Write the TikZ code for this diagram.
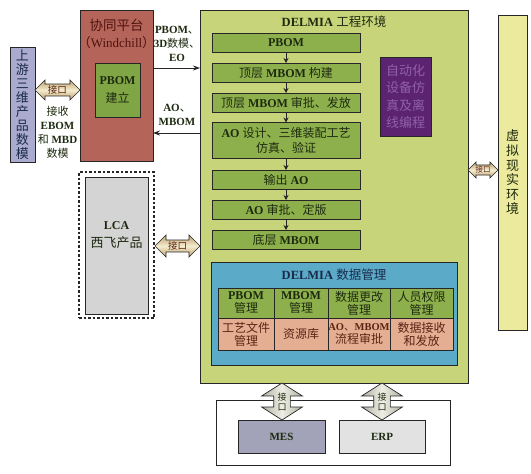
\documentclass[tikz,border=0pt]{standalone}
\usepackage{fontspec}
\setmainfont{Liberation Serif}
\newfontfamily\cjk{Noto Sans CJK SC}
\newcommand\zh[1]{{\cjk\mdseries #1}}
\usetikzlibrary{shapes.arrows,arrows.meta,calc}
\definecolor{dlbg}{HTML}{C8D47A}
\definecolor{flowg}{HTML}{8DB04C}
\definecolor{xtred}{HTML}{B5645A}
\definecolor{pbomg}{HTML}{7FA544}
\definecolor{leftp}{HTML}{ABABD0}
\definecolor{rightY}{HTML}{ECEA9C}
\definecolor{blueb}{HTML}{5AAAC8}
\definecolor{cellg}{HTML}{8DB04C}
\definecolor{cells}{HTML}{E4AE92}
\definecolor{purp}{HTML}{5C2470}
\definecolor{purt}{HTML}{9060A8}
\definecolor{lcag}{HTML}{D4D4D4}
\definecolor{mesc}{HTML}{A2A2B8}
\definecolor{erpc}{HTML}{E2E2E2}
\definecolor{tanL}{HTML}{F4ECD0}
\definecolor{tanD}{HTML}{BFA068}
\definecolor{greyL}{HTML}{EEEEE6}
\definecolor{greyD}{HTML}{B0B0A0}
\definecolor{edge}{HTML}{262626}
\definecolor{flowt}{HTML}{1E2A10}
\definecolor{redt}{HTML}{4E140E}
\definecolor{navy}{HTML}{1A2A4A}
\definecolor{brownt}{HTML}{5A2414}
\begin{document}
\begin{tikzpicture}[x=1pt,y=-1pt,
  box/.style={draw=edge, line width=0.9pt, inner sep=0pt, outer sep=0pt, align=center},
  flow/.style={box, fill=flowg, minimum width=148pt, minimum height=19pt, text=flowt,
    font=\fontsize{12}{15}\selectfont\bfseries},
  cellA/.style={box, fill=cellg, minimum height=30pt, text=flowt, font=\fontsize{12}{13}\selectfont\bfseries},
  cellB/.style={box, fill=cells, minimum height=32pt, text=brownt, font=\fontsize{12}{13}\selectfont\bfseries},
  lbl/.style={inner sep=0pt, align=center, font=\fontsize{11}{14}\selectfont\bfseries},
  harrow/.style={shape=double arrow, draw=edge, line width=0.7pt, inner xsep=0pt, inner ysep=1.2pt,
    double arrow tip angle=90, top color=tanD, bottom color=tanD, middle color=tanL,
    text=brownt},
  varrow/.style={shape=double arrow, shape border rotate=90, draw=edge, line width=0.7pt, inner sep=8pt,
    double arrow tip angle=115, double arrow head extend=12pt, minimum width=40pt, minimum height=37pt,
    left color=greyD, right color=greyD, middle color=greyL},
  flowarr/.style={-{Stealth[length=5pt,width=5pt]}, line width=0.9pt, draw=edge},
  link/.style={-{Stealth[length=7pt,width=5pt]}, line width=0.9pt, draw=edge}
]
\useasboundingbox[fill=white] (0,0) rectangle (531,474);

% DELMIA environment
\node[box, fill=dlbg, minimum width=268pt, minimum height=373pt] (dl) at (334,196.5) {};
\node[lbl, font=\fontsize{12.5}{14}\selectfont\bfseries, text=flowt] (dlt) at (334,22) {DELMIA \zh{工程环境}};

% flow
\node[flow] (f1) at (286,42.5) {PBOM};
\node[flow] (f2) at (286,72.5) {\zh{顶层} MBOM \zh{构建}};
\node[flow] (f3) at (286,102.5) {\zh{顶层} MBOM \zh{审批、发放}};
\node[flow, minimum height=36pt] (f4) at (286,140.5) {AO \zh{设计、三维装配工艺}\\\zh{仿真、验证}};
\node[flow] (f5) at (286,179.5) {\zh{输出} AO};
\node[flow] (f6) at (286,209.5) {AO \zh{审批、定版}};
\node[flow] (f7) at (286,239.5) {\zh{底层} MBOM};
\draw[flowarr] (f1) -- (f2);
\draw[flowarr] (f2) -- (f3);
\draw[flowarr] (f3) -- (f4);
\draw[flowarr] (f4) -- (f5);
\draw[flowarr] (f5) -- (f6);
\draw[flowarr] (f6) -- (f7);

% purple box
\node[box, fill=purp, minimum width=51pt, minimum height=79pt, text=purt,
  font=\fontsize{13}{17.5}\selectfont] (pu) at (405.5,96.5) {\zh{自动化}\\\zh{设备仿}\\\zh{真及离}\\\zh{线编程}};

% data management
\node[box, fill=blueb, minimum width=246pt, minimum height=103pt] (dm) at (334,313.5) {};
\node[lbl, font=\fontsize{12.5}{14}\selectfont\bfseries, text=navy] (dmt) at (334,275) {DELMIA \zh{数据管理}};
\node[cellA, minimum width=56pt] (c11) at (246,303) {PBOM\\\zh{管理}};
\node[cellA, minimum width=54pt] (c12) at (301,303) {MBOM\\\zh{管理}};
\node[cellA, minimum width=62pt] (c13) at (359,303) {\zh{数据更改}\\\zh{管理}};
\node[cellA, minimum width=63pt] (c14) at (421.5,303) {\zh{人员权限}\\\zh{管理}};
\node[cellB, minimum width=56pt] (c21) at (246,334) {\zh{工艺文件}\\\zh{管理}};
\node[cellB, minimum width=54pt] (c22) at (301,334) {\zh{资源库}};
\node[cellB, minimum width=62pt] (c23) at (359,334) {{\fontsize{10.5}{13}\selectfont AO\zh{、}MBOM}\\\zh{流程审批}};
\node[cellB, minimum width=63pt] (c24) at (421.5,334) {\zh{数据接收}\\\zh{和发放}};

% right virtual reality bar
\node[box, fill=rightY, minimum width=29pt, minimum height=315pt, text=flowt,
  font=\fontsize{13}{14.6}\selectfont] (vr) at (512.5,172.5) {\zh{虚}\\\zh{拟}\\\zh{现}\\\zh{实}\\\zh{环}\\\zh{境}};
\node[harrow, minimum height=30pt, minimum width=16pt, double arrow head extend=3pt,
  font=\fontsize{7.5}{8}\selectfont] (ar) at (483,170) {\zh{接口}};

% upstream box
\node[box, fill=leftp, minimum width=25pt, minimum height=115pt, text=navy,
  font=\fontsize{13}{14}\selectfont] (up) at (22.5,104.5) {\zh{上}\\\zh{游}\\\zh{三}\\\zh{维}\\\zh{产}\\\zh{品}\\\zh{数}\\\zh{模}};

% collaboration platform
\node[box, fill=xtred, minimum width=73pt, minimum height=151pt] (xt) at (116.5,85.5) {};
\node[lbl, font=\fontsize{13.5}{15}\selectfont, text=redt] (xtt) at (116.5,25) {\zh{协同平台}};
\node[lbl, font=\fontsize{13}{14}\selectfont\mdseries, text=redt] (xtw) at (116.5,43) {\zh{（}Windchill\zh{）}};
\node[box, fill=pbomg, minimum width=45pt, minimum height=54pt, text=flowt,
  font=\fontsize{12}{18}\selectfont\bfseries] (pb) at (117.5,90) {PBOM\\\zh{建立}};

\node[harrow, minimum height=45pt, minimum width=20pt, double arrow head extend=4pt,
  font=\fontsize{9.5}{10}\selectfont] (al) at (57.5,90) {\zh{接口}};
\node[lbl, font=\fontsize{11}{14}\selectfont\bfseries, text=flowt] (rcv) at (57.5,132)
  {\zh{接收}\\EBOM\\\zh{和} MBD\\\zh{数模}};

% links between platform and DELMIA
\draw[link] (xt.east |- 0,68) -- (dl.west |- 0,68);
\draw[link] (dl.west |- 0,133) -- (xt.east |- 0,133);
\node[lbl, text=flowt] (lb1) at (177,44) {PBOM\zh{、}\\3D\zh{数模、}\\EO};
\node[lbl, text=flowt] (lb2) at (177,115) {AO\zh{、}\\MBOM};

% LCA
\node[box, draw=edge, dashed, line width=1.3pt, dash pattern=on 2.5pt off 2pt, minimum width=75pt, minimum height=146pt] (lcaO) at (116.5,245) {};
\node[box, fill=lcag, minimum width=63pt, minimum height=137pt] (lca) at (116.5,245.5) {};
\node[lbl, text=flowt, font=\fontsize{13}{18}\selectfont\mdseries] (lcat) at (116.5,235) {{\bfseries\fontsize{12}{18}\selectfont LCA}\\\zh{西飞产品}};
\node[harrow, minimum height=45pt, minimum width=22pt, double arrow head extend=5pt,
  font=\fontsize{9.5}{10}\selectfont] (alc) at (177.5,246) {\zh{接口}};

% bottom systems
\node[box, fill=white, minimum width=234pt, minimum height=65pt] (sys) at (333,432.5) {};
\node[box, fill=mesc, minimum width=87pt, minimum height=33pt, font=\fontsize{11}{13}\selectfont\bfseries, text=flowt] (mes) at (281.5,436.5) {MES};
\node[box, fill=erpc, minimum width=86pt, minimum height=33pt, font=\fontsize{11}{13}\selectfont\bfseries, text=flowt] (erp) at (382,436.5) {ERP};
\node[varrow] (am) at (282,401.5) {};
\node[varrow] (ae) at (382,401.5) {};
\node[lbl, font=\fontsize{9}{10}\selectfont\mdseries, text=flowt] (amt) at (282,401.5) {\zh{接}\\\zh{口}};
\node[lbl, font=\fontsize{9}{10}\selectfont\mdseries, text=flowt] (aet) at (382,401.5) {\zh{接}\\\zh{口}};
\end{tikzpicture}
\end{document}
